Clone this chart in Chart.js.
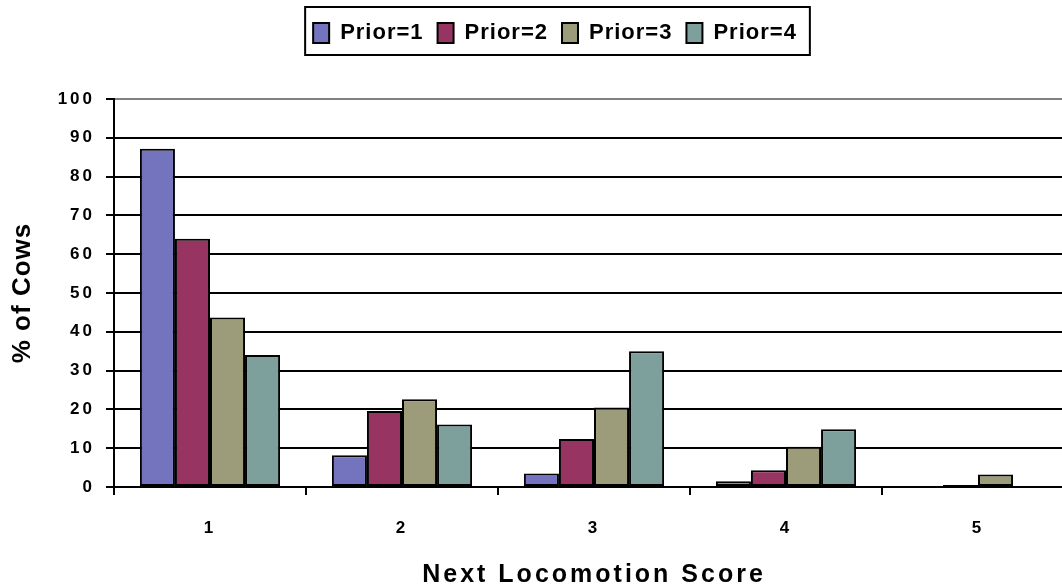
<!DOCTYPE html>
<html lang="en">
<head>
  <meta charset="UTF-8">
  <title>Next Locomotion Score by Prior Score</title>
  <script src="https://cdn.jsdelivr.net/npm/chart.js"></script>
  <style>
    body {
      margin: 0;
      padding: 0;
      background: #ffffff;
      overflow: hidden;
    }
    #chart {
      display: block;
    }
  </style>
</head>
<body>
  <canvas id="chart" width="1080" height="600"></canvas>

  <script>
    // Data
    const scores = ['1', '2', '3', '4', '5'];
    const seriesNames = ['Prior=1', 'Prior=2', 'Prior=3', 'Prior=4'];
    const prior1 = [87.2, 8.2, 3.5, 1.5, 0];
    const prior2 = [64.0, 19.6, 12.4, 4.3, 0.5];
    const prior3 = [43.7, 22.6, 20.5, 10.4, 3.2];
    const prior4 = [34.0, 16.1, 35.0, 14.9, 0];
    const yTicks = [0, 10, 20, 30, 40, 50, 60, 70, 80, 90, 100];

    const colors = ['#7473BE', '#983462', '#9C9B7A', '#7EA09C'];

    // old Excel-style wide text: letter spacing per font size
    const spacingFor = { 17: 3, 22: 1, 25: 3, 26: 1 };

    const canvas = document.getElementById('chart');
    const ctx = canvas.getContext('2d');
    const fontProp = Object.getOwnPropertyDescriptor(CanvasRenderingContext2D.prototype, 'font');
    Object.defineProperty(ctx, 'font', {
      get() { return fontProp.get.call(this); },
      set(v) {
        fontProp.set.call(this, v);
        const m = /(\d+(?:\.\d+)?)px/.exec(v);
        this.letterSpacing = ((m && spacingFor[m[1]]) || 0) + 'px';
      }
    });

    Chart.defaults.font.family = 'Arial, "Liberation Sans", sans-serif';
    Chart.defaults.color = '#000000';

    // legend sits a bit left of centre and has a black frame round it
    const legendFrame = {
      id: 'legendFrame',
      afterLayout(chart) {
        const lg = chart.legend;
        const d = 555 - (lg.left + lg.right) / 2;
        lg.left += d;
        lg.right += d;
      },
      afterDraw(chart) {
        const boxes = chart.legend.legendHitBoxes;
        if (!boxes || !boxes.length) return;
        const first = boxes[0];
        const last = boxes[boxes.length - 1];
        const c = chart.ctx;
        c.save();
        c.strokeStyle = '#000000';
        c.lineWidth = 2;
        c.strokeRect(first.left - 8, first.top - 15, last.left + last.width - first.left + 21, first.height + 26);
        c.restore();
      }
    };

    const legendHeight = {
      id: 'legendHeight',
      beforeInit(chart) {
        const fit = chart.legend.fit;
        chart.legend.fit = function () {
          fit.call(this);
          this.height = 91;
        };
      }
    };

    const datasets = [prior1, prior2, prior3, prior4].map((values, i) => ({
      label: seriesNames[i],
      data: values,
      backgroundColor: colors[i],
      borderColor: '#000000',
      borderWidth: 2,
      borderSkipped: false,
      categoryPercentage: 0.73,
      barPercentage: 1.0
    }));

    new Chart(ctx, {
      type: 'bar',
      data: { labels: scores, datasets: datasets },
      plugins: [legendHeight, legendFrame],
      options: {
        responsive: false,
        animation: false,
        layout: { padding: { left: 0, right: 6, top: 8, bottom: 0 } },
        plugins: {
          tooltip: { enabled: false },
          legend: {
            position: 'top',
            labels: {
              boxWidth: 16,
              boxHeight: 20,
              padding: 14,
              color: '#000000',
              font: { size: 22, weight: 'bold' }
            }
          }
        },
        scales: {
          x: {
            afterFit: (scale) => { scale.height = 113; },
            grid: {
              display: true,
              drawOnChartArea: false,
              drawTicks: true,
              tickLength: 8,
              offset: true,
              color: '#000000',
              lineWidth: 2
            },
            border: { display: true, color: '#000000', width: 2 },
            ticks: {
              padding: 23,
              color: '#000000',
              font: { size: 17, weight: 'bold' }
            },
            title: {
              display: true,
              text: 'Next Locomotion Score',
              color: '#000000',
              font: { size: 25, weight: 'bold' },
              padding: { top: 0, bottom: 10 }
            }
          },
          y: {
            min: 0,
            max: 100,
            afterFit: (scale) => { scale.width = 114; },
            afterBuildTicks: (scale) => { scale.ticks = yTicks.map(v => ({ value: v })); },
            grid: {
              color: (c) => (c.tick && c.tick.value === 100 ? '#808080' : '#000000'),
              tickColor: '#000000',
              lineWidth: 2,
              tickLength: 8
            },
            border: { display: true, color: '#000000', width: 2 },
            ticks: {
              padding: 11,
              color: '#000000',
              font: { size: 17, weight: 'bold' }
            },
            title: {
              display: true,
              text: '% of Cows',
              color: '#000000',
              font: { size: 26, weight: 'bold' },
              padding: { top: 7, bottom: 0 }
            }
          }
        }
      }
    });
  </script>
</body>
</html>
